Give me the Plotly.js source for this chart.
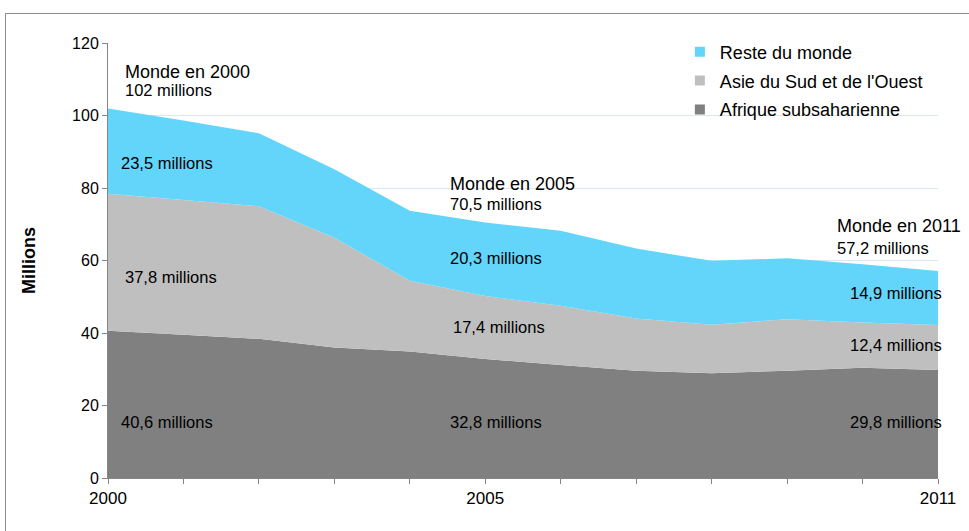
<!DOCTYPE html>
<html>
<head>
<meta charset="utf-8">
<script src="https://cdn.plot.ly/plotly-3.0.1.min.js"></script>
<style>
  html, body { margin: 0; padding: 0; background: #fff; }
  #wrap { position: relative; width: 969px; height: 531px; overflow: hidden; }
  #frame { position: absolute; left: 5px; top: 13px; width: 980px; height: 540px;
           border-left: 1px solid #8c8c8c; border-top: 1px solid #8c8c8c; pointer-events: none; }
  #chart { position: absolute; left: 0; top: 0; width: 969px; height: 531px; }
</style>
</head>
<body>
<div id="wrap">
  <div id="chart"></div>
  <div id="frame"></div>
</div>
<script>
// ---- data (millions) ----
const years = [2000, 2001, 2002, 2003, 2004, 2005, 2006, 2007, 2008, 2009, 2010, 2011];
const afriqueSubsaharienne = [40.6, 39.5, 38.4, 36.0, 34.9, 32.8, 31.2, 29.6, 28.9, 29.6, 30.4, 29.8];
const asieSudOuest        = [37.8, 37.2, 36.6, 30.3, 19.5, 17.4, 16.3, 14.4, 13.4, 14.2, 12.5, 12.4];
const resteDuMonde        = [23.5, 21.9, 20.1, 18.9, 19.3, 20.3, 20.7, 19.3, 17.6, 16.8, 16.1, 14.9];
const seriesNames = ["Afrique subsaharienne", "Asie du Sud et de l'Ouest", "Reste du monde"];
const seriesColors = ["#808080", "#BFBFBF", "#63D5FB"];
const xTickLabels = ["2000", "", "", "", "", "2005", "", "", "", "", "", "2011"];

// annotation texts: [text, x (year), y (millions), size]
const labels = [
  ["Monde en 2000", 2000.20, 112.0, 18],
  ["102 millions", 2000.20, 107.0, 16.5],
  ["23,5 millions", 2000.14, 86.9, 16.5],
  ["37,8 millions", 2000.20, 55.4, 16.5],
  ["40,6 millions", 2000.14, 15.4, 16.5],
  ["Monde en 2005", 2004.50, 81.1, 18],
  ["70,5 millions", 2004.50, 75.6, 16.5],
  ["20,3 millions", 2004.50, 60.7, 16.5],
  ["17,4 millions", 2004.54, 41.7, 16.5],
  ["32,8 millions", 2004.50, 15.4, 16.5],
  ["Monde en 2011", 2009.63, 69.5, 18],
  ["57,2 millions", 2009.63, 63.4, 16.5],
  ["14,9 millions", 2009.81, 51.0, 16.5],
  ["12,4 millions", 2009.81, 36.7, 16.5],
  ["29,8 millions", 2009.81, 15.4, 16.5]
];

const stackValues = [afriqueSubsaharienne, asieSudOuest, resteDuMonde];
const traces = stackValues.map((vals, i) => ({
  type: "scatter", x: years, y: vals, name: seriesNames[i],
  stackgroup: "one", mode: "none", fillcolor: seriesColors[i],
  line: {width: 0}, showlegend: false, hoverinfo: "skip"
}));
// legend entries (square swatches), top to bottom
[2, 1, 0].forEach((i, k) => {
  traces.push({
    type: "scatter", x: [null], y: [null], name: seriesNames[i], mode: "markers",
    marker: {symbol: "square", size: 10, color: seriesColors[i]},
    legendgroup: "g" + k, showlegend: true, hoverinfo: "skip"
  });
});

const font = "Liberation Sans, Arial, sans-serif";
const layout = {
  width: 969, height: 531,
  margin: {l: 108, r: 31, t: 43, b: 53},
  paper_bgcolor: "#ffffff", plot_bgcolor: "#ffffff",
  font: {family: font, size: 16, color: "#000"},
  showlegend: true,
  legend: {
    x: 0.689, xanchor: "left", y: 1.022, yanchor: "top",
    traceorder: "grouped", tracegroupgap: 2.5,
    font: {family: font, size: 18, color: "#000"},
    bgcolor: "rgba(0,0,0,0)"
  },
  xaxis: {
    range: [2000, 2011], tickmode: "array", tickvals: years, ticktext: xTickLabels,
    ticks: "outside", ticklen: 5, tickcolor: "#868686", showline: true, linecolor: "#868686",
    showgrid: false, zeroline: false, fixedrange: true,
    tickfont: {family: font, size: 17, color: "#000"}
  },
  yaxis: {
    range: [0, 120], dtick: 20, tick0: 0,
    ticks: "outside", ticklen: 5, tickcolor: "#868686", showline: true, linecolor: "#868686",
    showgrid: true, gridcolor: "#DCE6F2", gridwidth: 1, zeroline: false, fixedrange: true,
    tickfont: {family: font, size: 16, color: "#000"},
    title: {text: "<b>Millions</b>", standoff: 31, font: {family: font, size: 18, color: "#000"}}
  },
  annotations: labels.map(l => ({
    text: l[0], x: l[1], y: l[2], xref: "x", yref: "y",
    xanchor: "left", yanchor: "middle", showarrow: false,
    font: {family: font, size: l[3], color: "#000"}
  }))
};

Plotly.newPlot("chart", traces, layout, {staticPlot: true, displayModeBar: false});
</script>
</body>
</html>
